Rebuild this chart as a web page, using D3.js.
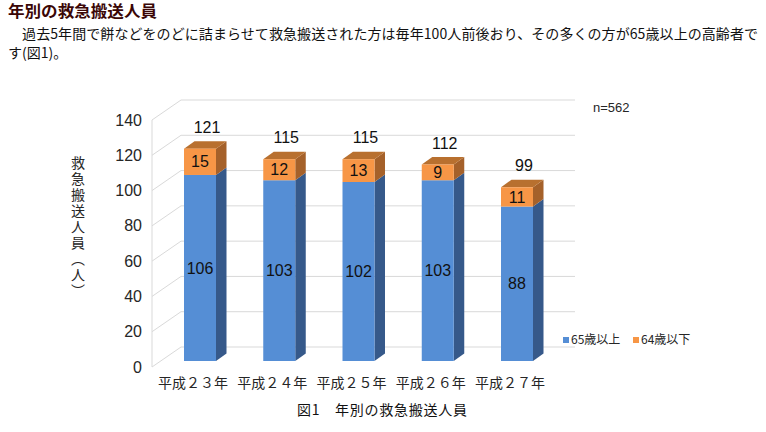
<!DOCTYPE html>
<html>
<head>
<meta charset="utf-8">
<script src="https://cdn.jsdelivr.net/npm/d3@7"></script>
<style>
  body { margin: 0; background: #fff; }
  svg text { font-family: "Liberation Sans", "Noto Sans CJK JP", sans-serif; }
  .jp { font-family: "Noto Sans CJK JP", sans-serif; }
</style>
</head>
<body>
<svg id="chart" width="766" height="432"></svg>
<script>
// chart data
const years = ["平成２３年", "平成２４年", "平成２５年", "平成２６年", "平成２７年"];
const over65 = [106, 103, 102, 103, 88];
const under64 = [15, 12, 13, 9, 11];
const totals = [121, 115, 115, 112, 99];
const yTicks = [0, 20, 40, 60, 80, 100, 120, 140];
const seriesNames = ["65歳以上", "64歳以下"];

const svg = d3.select("#chart");

// heading and paragraph
svg.append("text").attr("class", "jp")
    .attr("x", 8).attr("y", 17)
    .attr("font-size", 15.5).attr("font-weight", "bold")
    .attr("fill", "#3a0606")
    .attr("textLength", 149).attr("lengthAdjust", "spacingAndGlyphs")
    .text("年別の救急搬送人員");

svg.append("text").attr("class", "jp")
    .attr("x", 8).attr("y", 39)
    .attr("font-size", 14).attr("fill", "#111")
    .attr("textLength", 750).attr("lengthAdjust", "spacing")
    .text("　過去5年間で餅などをのどに詰まらせて救急搬送された方は毎年100人前後おり、その多くの方が65歳以上の高齢者で");

svg.append("text").attr("class", "jp")
    .attr("x", 8).attr("y", 58)
    .attr("font-size", 14).attr("fill", "#111")
    .text("す(図1)。");

// scales: front edge, back wall, and bar faces
const yFront = d3.scaleLinear().domain([0, 140]).range([367, 120]);
const yBack = d3.scaleLinear().domain([0, 140]).range([347, 100]);
const yBar = d3.scaleLinear().domain([0, 140]).range([361, 115.3]);
const x = d3.scalePoint().domain(years).range([200, 517]);

const wallLeft = 152, backLeft = 181, backRight = 575;
const barW = 32, depthX = 10.5, depthY = -7.5;

const grid = svg.append("g").attr("stroke", "#d9d9d9").attr("stroke-width", 1).attr("fill", "none");

// back wall gridlines
grid.selectAll(".back").data(yTicks).enter().append("line")
    .attr("x1", backLeft).attr("x2", backRight)
    .attr("y1", d => yBack(d)).attr("y2", d => yBack(d));

// side wall lines
grid.selectAll(".side").data(yTicks).enter().append("line")
    .attr("x1", wallLeft).attr("x2", backLeft)
    .attr("y1", d => yFront(d)).attr("y2", d => yBack(d));

grid.append("line")
    .attr("x1", wallLeft).attr("x2", wallLeft)
    .attr("y1", yFront(140)).attr("y2", yFront(0));

// y tick labels
svg.append("g").selectAll("text").data(yTicks).enter().append("text")
    .attr("x", 142).attr("y", d => yFront(d))
    .attr("dy", "0.35em").attr("text-anchor", "end")
    .attr("font-size", 16).attr("fill", "#262626")
    .text(d => d);

// y axis title (vertical)
svg.append("text").attr("class", "jp")
    .attr("x", 78).attr("y", 156)
    .attr("font-size", 14).attr("fill", "#262626")
    .style("writing-mode", "vertical-rl")
    .attr("letter-spacing", 2)
    .text("救急搬送人員（人）");

// 3D bar segment
function drawBlock(g, cx, v0, v1, front, side, top) {
  const xl = cx - barW / 2, xr = cx + barW / 2;
  const yb = yBar(v0), yt = yBar(v1);
  g.append("polygon")
      .attr("points", [[xr, yb], [xr + depthX, yb + depthY], [xr + depthX, yt + depthY], [xr, yt]].join(" "))
      .attr("fill", side);
  if (top) {
    g.append("polygon")
        .attr("points", [[xl, yt], [xl + depthX, yt + depthY], [xr + depthX, yt + depthY], [xr, yt]].join(" "))
        .attr("fill", top);
  }
  g.append("rect")
      .attr("x", xl).attr("y", yt)
      .attr("width", barW).attr("height", yb - yt)
      .attr("fill", front);
}

const bars = svg.append("g");
years.forEach((yr, i) => {
  const cx = x(yr);
  const g = bars.append("g");
  drawBlock(g, cx, 0, over65[i], "#558ed5", "#36598a", null);
  drawBlock(g, cx, over65[i], over65[i] + under64[i], "#f79646", "#a5612a", "#b8702f");
});

// value labels
svg.append("g").selectAll("text").data(years).enter().append("text")
    .attr("x", d => x(d)).attr("y", (d, i) => yBar(over65[i] / 2))
    .attr("dy", "0.35em").attr("text-anchor", "middle")
    .attr("font-size", 16).attr("fill", "#111")
    .text((d, i) => over65[i]);

svg.append("g").selectAll("text").data(years).enter().append("text")
    .attr("x", d => x(d)).attr("y", (d, i) => yBar(over65[i] + under64[i] / 2))
    .attr("dy", "0.35em").attr("text-anchor", "middle")
    .attr("font-size", 16).attr("fill", "#111")
    .text((d, i) => under64[i]);

svg.append("g").selectAll("text").data(years).enter().append("text")
    .attr("x", d => x(d) + 7).attr("y", (d, i) => yBar(totals[i]) + depthY - 14)
    .attr("dy", "0.35em").attr("text-anchor", "middle")
    .attr("font-size", 16).attr("fill", "#111")
    .text((d, i) => totals[i]);

// category labels
svg.append("g").selectAll("text").data(years).enter().append("text")
    .attr("class", "jp")
    .attr("x", d => x(d) - 7).attr("y", 383)
    .attr("dy", "0.35em").attr("text-anchor", "middle")
    .attr("font-size", 14).attr("fill", "#262626")
    .text(d => d);

// n label
svg.append("text")
    .attr("x", 593).attr("y", 107).attr("dy", "0.35em")
    .attr("font-size", 13).attr("fill", "#262626")
    .text("n=562");

// legend
const legendColors = ["#558ed5", "#f79646"];
const legendX = [563, 633];
const legend = svg.append("g").selectAll("g").data(seriesNames).enter().append("g")
    .attr("transform", (d, i) => `translate(${legendX[i]},340)`);
legend.append("rect").attr("x", 0).attr("y", -3).attr("width", 6).attr("height", 6)
    .attr("fill", (d, i) => legendColors[i]);
legend.append("text").attr("class", "jp")
    .attr("x", 8).attr("dy", "0.35em")
    .attr("font-size", 12).attr("fill", "#262626")
    .text(d => d);

// caption
svg.append("text").attr("class", "jp")
    .attr("x", 297).attr("y", 410).attr("dy", "0.35em")
    .attr("font-size", 14).attr("fill", "#111")
    .attr("textLength", 170).attr("lengthAdjust", "spacing")
    .text("図1　年別の救急搬送人員");
</script>
</body>
</html>
